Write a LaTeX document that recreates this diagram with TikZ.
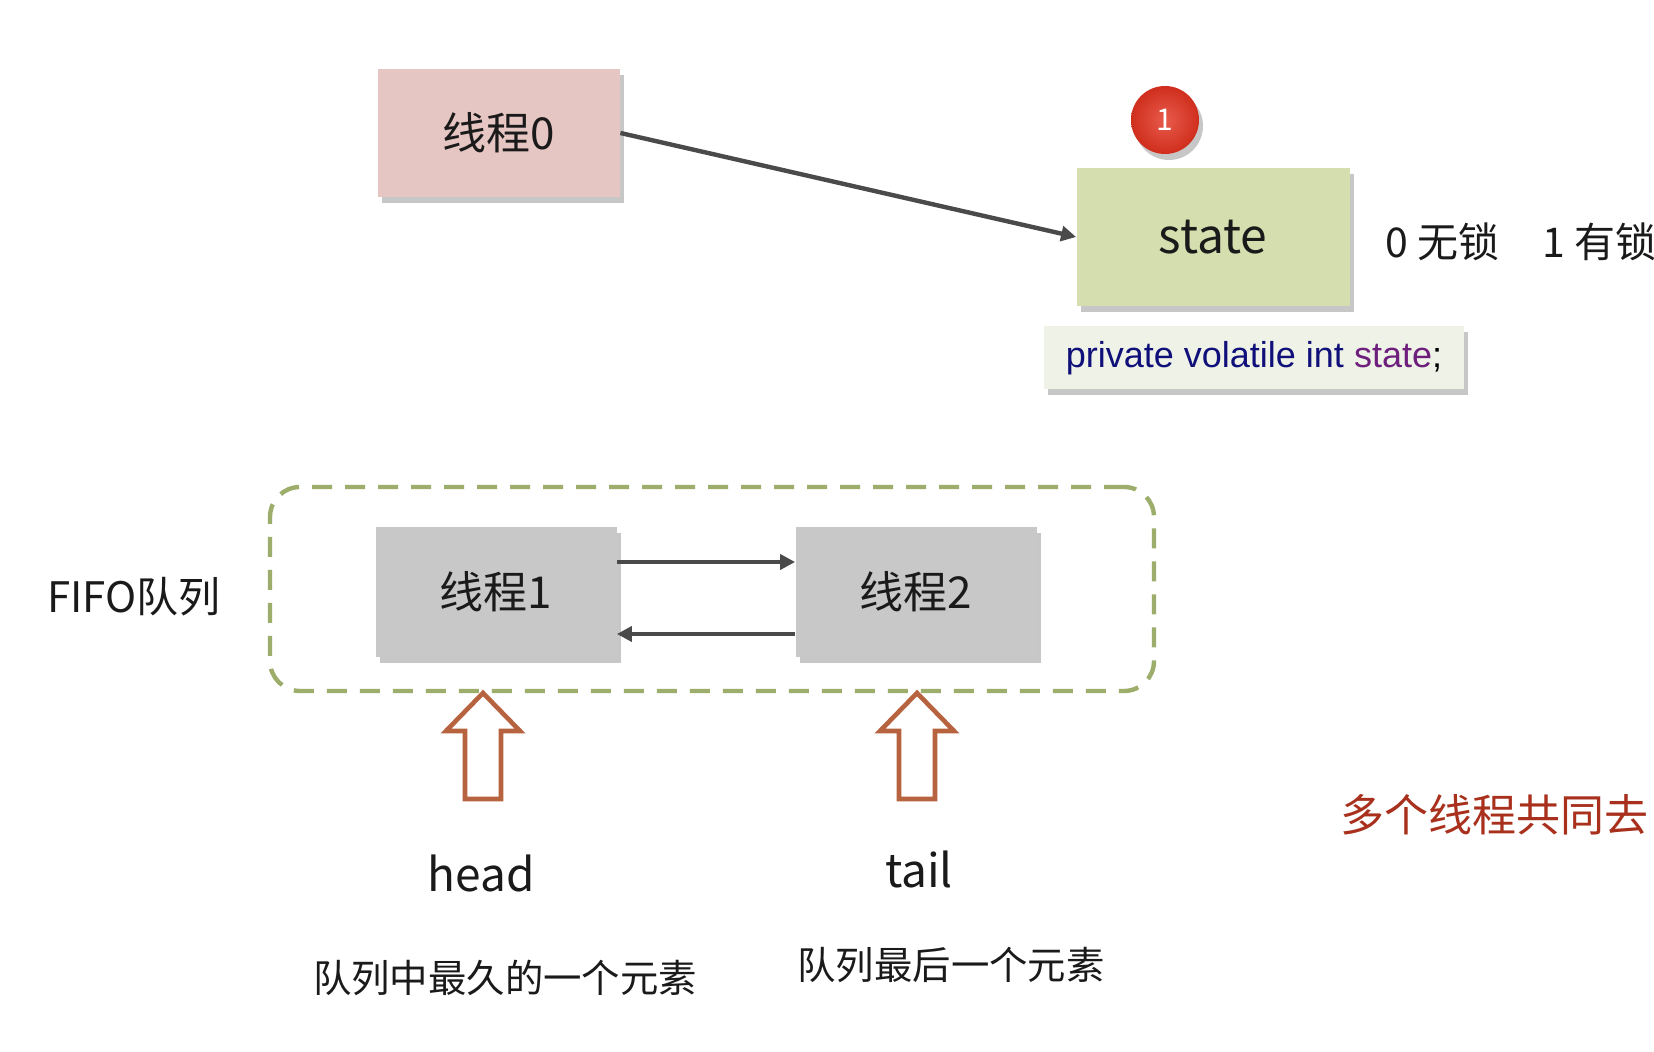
\documentclass[tikz,border=0pt]{standalone}
\usepackage{fontspec}
\setmainfont{Noto Sans CJK SC}
\newfontfamily\codefont{Liberation Sans}
\usetikzlibrary{arrows.meta,shadows}
\definecolor{ink}{HTML}{1A1A1A}
\definecolor{wire}{HTML}{4A4A4A}
\definecolor{pinkbox}{HTML}{E6C6C3}
\definecolor{olivebox}{HTML}{D5DEAE}
\definecolor{greybox}{HTML}{C8C8C8}
\definecolor{codebg}{HTML}{EFF2E6}
\definecolor{dashgreen}{HTML}{9DAE6C}
\definecolor{rust}{HTML}{B8633F}
\definecolor{badgered}{HTML}{E2321F}
\definecolor{alert}{HTML}{A8301C}
\definecolor{kwblue}{HTML}{10107A}
\definecolor{fieldpurple}{HTML}{6E1F7E}
\tikzset{
  boxshadow/.style={drop shadow={shadow xshift=2pt,shadow yshift=-3pt,opacity=.22,fill=black}},
  box/.style={boxshadow,inner sep=0pt,align=center,text=ink,font=\fontsize{22}{26}\selectfont},
  threadbox/.style={box,fill=greybox,minimum width=120.5pt,minimum height=65pt},
  plain/.style={inner sep=0pt,text=ink,font=\fontsize{21}{25}\selectfont},
  small/.style={inner sep=0pt,text=ink,font=\fontsize{19.2}{23}\selectfont},
  link/.style={-{Triangle[length=7.5pt,width=7.5pt]},draw=wire,line width=2.2pt},
  hollow/.style={draw=rust,line width=2.3pt,fill=white,line join=miter},
}

\begin{document}
\begin{tikzpicture}[x=0.5pt,y=-0.5pt]
  \fill[white] (0,0) rectangle (1654,1052);
  \useasboundingbox (0,0) rectangle (1654,1052);

  % ── the lock word ──
  \node[box,fill=pinkbox,minimum width=121pt,minimum height=64pt] (t0) at (499,133) {线程0};
  \node[box,fill=olivebox,minimum width=136.5pt,minimum height=69pt,font=\fontsize{24}{28}\selectfont] (st) at (1213,237) {state};
  \node[circle,boxshadow,shading=radial,inner color=badgered!80!white,outer color=badgered!92!black,
        minimum size=34pt,inner sep=0pt,text=white,font=\fontsize{15}{18}\selectfont] (badge) at (1165,120) {1};
  \node[boxshadow,fill=codebg,minimum width=210pt,minimum height=31.5pt,inner sep=0pt,
        font=\codefont\fontsize{18}{22}\selectfont] (code) at (1254,358)
        {{\color{kwblue}private volatile int} {\color{fieldpurple}state};};
  \node[plain,anchor=west,font=\fontsize{20.5}{24}\selectfont] (free) at (1385,242) {0 无锁};
  \node[plain,anchor=west,font=\fontsize{20.5}{24}\selectfont] (held) at (1542,242) {1 有锁};
  \draw[link] (t0.east) -- (st.west);

  % ── the waiting queue ──
  \node[draw=dashgreen,line width=2.2pt,dash pattern=on 10pt off 6.5pt,rounded corners=15pt,
        minimum width=442pt,minimum height=102pt] (queue) at (712,589) {};
  \node[plain,anchor=west] (fifo) at (47,597) {FIFO队列};
  \node[threadbox] (t1) at (496,592) {线程1};
  \node[threadbox] (t2) at (916,592) {线程2};
  \draw[link] ([yshift=15pt]t1.east) -- ([yshift=15pt]t2.west);
  \draw[link] ([yshift=-21pt]t2.west) -- ([yshift=-21pt]t1.east);

  % hollow pointers under the two ends
  \foreach \cx in {483,917}
    \draw[hollow] (\cx,693) -- (\cx+37,731) -- (\cx+18,731) -- (\cx+18,799)
      -- (\cx-18,799) -- (\cx-18,731) -- (\cx-37,731) -- cycle;
  \node[plain,font=\fontsize{23}{27}\selectfont] (head) at (481,873) {head};
  \node[plain,font=\fontsize{23}{27}\selectfont] (tail) at (919,869) {tail};
  \node[small] (oldest) at (505,978) {队列中最久的一个元素};
  \node[small] (newest) at (951,965) {队列最后一个元素};

  \node[plain,anchor=west,text=alert,font=\fontsize{22}{26}\selectfont] (race) at (1340,815) {多个线程共同去};
\end{tikzpicture}
\end{document}
